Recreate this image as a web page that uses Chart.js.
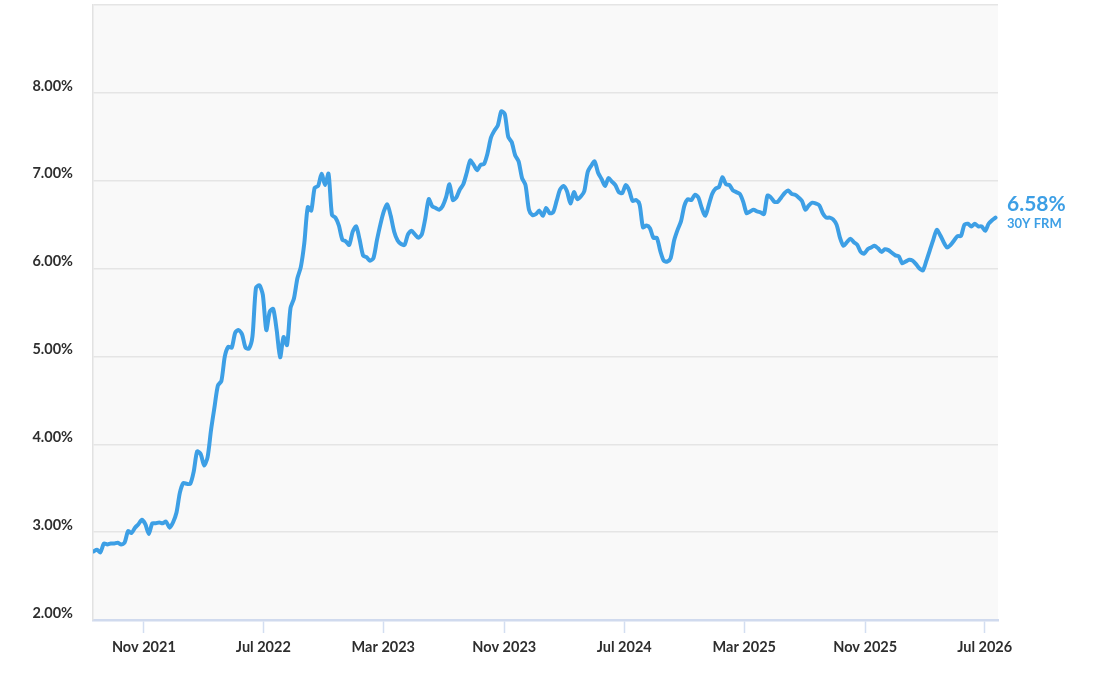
<!DOCTYPE html>
<html>
<head>
<meta charset="utf-8">
<script src="https://cdn.jsdelivr.net/npm/chart.js@4.4.1/dist/chart.umd.min.js"></script>
<style>
  html, body { margin: 0; padding: 0; background: #fff; }
  #wrap { width: 1103px; height: 673px; }
</style>
</head>
<body>
<div id="wrap"><canvas id="chart"></canvas></div>
<script>
// weekly 30Y fixed rate, first reading 2021-07-22, one value per week
const firstWeek = '2021-07-22';
const rates2021 = [2.78, 2.80, 2.77, 2.87, 2.86, 2.87, 2.87, 2.88, 2.86, 2.88, 3.01, 2.99,
  3.05, 3.09, 3.14, 3.09, 2.98, 3.10, 3.10, 3.11, 3.10, 3.12, 3.05, 3.11];
const rates2022 = [3.22, 3.45, 3.56, 3.55, 3.55, 3.69, 3.92, 3.89, 3.76, 3.85, 4.16, 4.42, 4.67,
  4.72, 5.00, 5.11, 5.10, 5.27, 5.30, 5.25, 5.10, 5.09, 5.23, 5.78, 5.81, 5.70,
  5.30, 5.51, 5.54, 5.30, 4.99, 5.22, 5.13, 5.55, 5.66, 5.89, 6.02, 6.29, 6.70,
  6.66, 6.92, 6.94, 7.08, 6.95, 7.08, 6.61, 6.58, 6.49, 6.33, 6.31, 6.27, 6.42];
const rates2023 = [6.48, 6.33, 6.15, 6.13, 6.09, 6.12, 6.32, 6.50, 6.65, 6.73, 6.60, 6.42, 6.32,
  6.28, 6.27, 6.39, 6.43, 6.39, 6.35, 6.39, 6.57, 6.79, 6.71, 6.69, 6.67, 6.71,
  6.81, 6.96, 6.78, 6.81, 6.90, 6.96, 7.09, 7.23, 7.18, 7.12, 7.18, 7.19, 7.31,
  7.49, 7.57, 7.63, 7.79, 7.76, 7.50, 7.44, 7.29, 7.22, 7.03, 6.95, 6.67, 6.61];
const rates2024 = [6.62, 6.66, 6.60, 6.69, 6.63, 6.64, 6.77, 6.90, 6.94, 6.88, 6.74, 6.87, 6.79,
  6.82, 6.88, 7.10, 7.17, 7.22, 7.09, 7.02, 6.94, 7.03, 6.99, 6.95, 6.87, 6.86,
  6.95, 6.89, 6.77, 6.78, 6.73, 6.47, 6.49, 6.46, 6.35, 6.35, 6.20, 6.09, 6.08,
  6.12, 6.32, 6.44, 6.54, 6.72, 6.79, 6.78, 6.84, 6.81, 6.69, 6.60, 6.72, 6.85];
const rates2025 = [6.91, 6.93, 7.04, 6.96, 6.95, 6.89, 6.87, 6.85, 6.76, 6.63, 6.65, 6.67, 6.65,
  6.64, 6.62, 6.83, 6.81, 6.76, 6.76, 6.81, 6.86, 6.89, 6.85, 6.84, 6.81, 6.77,
  6.67, 6.72, 6.75, 6.74, 6.72, 6.63, 6.58, 6.58, 6.56, 6.50, 6.35, 6.26, 6.30,
  6.34, 6.30, 6.27, 6.19, 6.17, 6.22, 6.24, 6.26, 6.23, 6.19, 6.22, 6.21, 6.18];
const rates2026 = [6.15, 6.14, 6.06, 6.08, 6.10, 6.09, 6.05, 6.00, 5.98, 6.09, 6.21, 6.33, 6.44,
  6.38, 6.30, 6.24, 6.27, 6.32, 6.37, 6.37, 6.50, 6.51, 6.48, 6.51, 6.48, 6.48,
  6.43, 6.51, 6.55, 6.58];

const tickDates = ['2021-11-01', '2022-07-01', '2023-03-01', '2023-11-01',
  '2024-07-01', '2025-03-01', '2025-11-01', '2026-07-01'];
const tickLabels = ['Nov 2021', 'Jul 2022', 'Mar 2023', 'Nov 2023',
  'Jul 2024', 'Mar 2025', 'Nov 2025', 'Jul 2026'];
const yTicks = [2, 3, 4, 5, 6, 7, 8, 9];
const seriesName = '30Y FRM';

const DAY = 86400000;
const toDay = s => Date.parse(s + 'T00:00:00Z') / DAY;

const rates = [].concat(rates2021, rates2022, rates2023, rates2024, rates2025, rates2026);
const start = toDay(firstWeek);
const points = rates.map((r, i) => ({ x: start + 7 * i, y: r }));
const tickDays = tickDates.map(toDay);

const BLUE = '#3d9fe5';
const INK = '#2e2e2e';
const FONT = 'Lato, "Open Sans", sans-serif';

const plotBg = {
  id: 'plotBg',
  beforeDraw(chart) {
    const { ctx, chartArea: a } = chart;
    ctx.save();
    ctx.fillStyle = '#f9f9f9';
    ctx.fillRect(a.left, a.top, a.right - a.left, a.bottom - a.top);
    ctx.restore();
  }
};

const endLabel = {
  id: 'endLabel',
  afterDatasetsDraw(chart) {
    const meta = chart.getDatasetMeta(0);
    const last = meta.data[meta.data.length - 1];
    const ctx = chart.ctx;
    const x = chart.chartArea.right + 9;
    ctx.save();
    ctx.fillStyle = BLUE;
    ctx.textAlign = 'left';
    ctx.textBaseline = 'middle';
    ctx.font = 'bold 21px ' + FONT;
    ctx.fillText(rates[rates.length - 1].toFixed(2) + '%', x, last.y - 13);
    ctx.font = 'bold 13px ' + FONT;
    ctx.fillText(seriesName, x, last.y + 6);
    ctx.restore();
  }
};

new Chart(document.getElementById('chart'), {
  type: 'line',
  data: {
    datasets: [{
      label: seriesName,
      data: points,
      borderColor: BLUE,
      borderWidth: 4,
      pointRadius: 0,
      tension: 0.25,
      borderJoinStyle: 'round',
      borderCapStyle: 'round',
      fill: false
    }]
  },
  options: {
    responsive: true,
    maintainAspectRatio: false,
    animation: false,
    layout: { padding: { top: 5, right: 105, left: 0, bottom: 0 } },
    plugins: { legend: { display: false }, tooltip: { enabled: false } },
    scales: {
      x: {
        type: 'linear',
        min: points[0].x - 1,
        max: points[points.length - 1].x + 5,
        afterBuildTicks(s) { s.ticks = tickDays.map(v => ({ value: v })); },
        afterFit(s) { s.height = 53; },
        ticks: {
          autoSkip: false,
          maxRotation: 0,
          padding: 6,
          color: INK,
          font: { family: FONT, size: 14.5, weight: 'bold' },
          callback: v => tickLabels[tickDays.indexOf(v)]
        },
        grid: {
          drawOnChartArea: false,
          drawTicks: true,
          tickLength: 13,
          tickColor: '#d3def1',
          tickWidth: 1.5
        },
        border: { color: '#d0daee', width: 2.5 }
      },
      y: {
        min: 2,
        max: 9,
        afterBuildTicks(s) { s.ticks = yTicks.map(v => ({ value: v })); },
        afterFit(s) { s.width = 93; s.paddingTop = 0; s.paddingBottom = 0; },
        ticks: {
          padding: 20,
          labelOffset: -7,
          color: INK,
          font: { family: FONT, size: 14.5, weight: 'bold' },
          callback: v => v === 9 ? '' : v.toFixed(2) + '%'
        },
        grid: { color: '#e5e5e5', lineWidth: 1.5, drawTicks: false },
        border: { color: '#e2e2e2', width: 1.5 }
      }
    }
  },
  plugins: [plotBg, endLabel]
});
</script>
</body>
</html>
